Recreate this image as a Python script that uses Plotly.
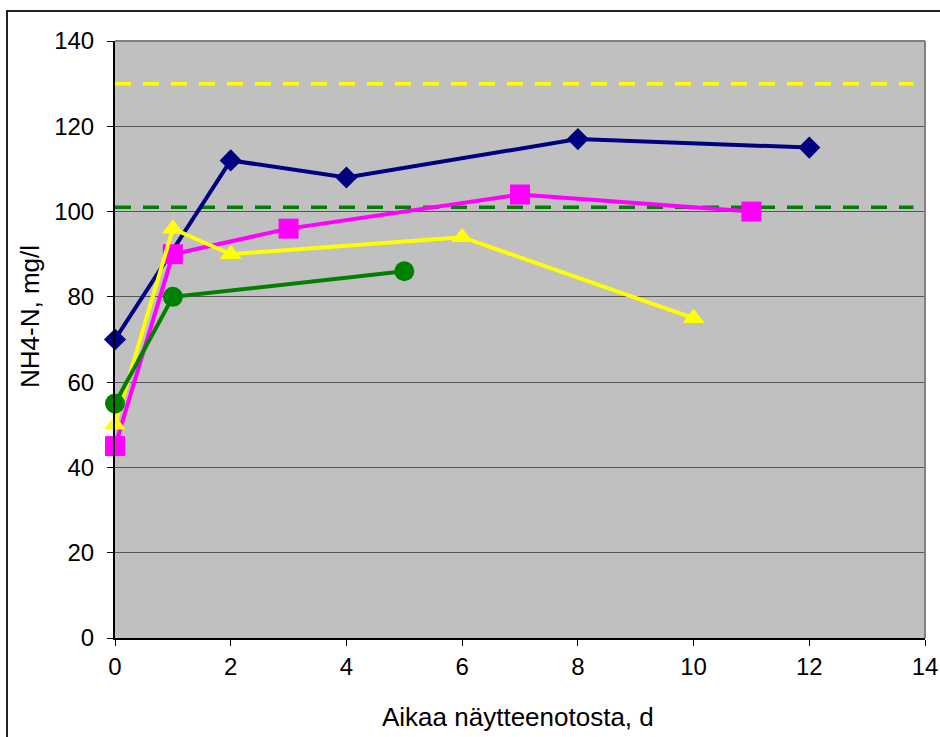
import plotly.graph_objects as go

# Data
navy_x = [0, 2, 4, 8, 12]
navy_y = [70, 112, 108, 117, 115]
magenta_x = [0, 1, 3, 7, 11]
magenta_y = [45, 90, 96, 104, 100]
yellow_x = [0, 1, 2, 6, 10]
yellow_y = [50, 96, 90, 94, 75]
green_x = [0, 1, 5]
green_y = [55, 80, 86]
limit_x = [0, 13.8]
yellow_limit = [130, 130]
green_limit = [101, 101]

x_ticks = [0, 2, 4, 6, 8, 10, 12, 14]
y_ticks = [0, 20, 40, 60, 80, 100, 120, 140]

FONT = "Liberation Sans, Arial, sans-serif"

fig = go.Figure()

fig.add_trace(go.Scatter(x=limit_x, y=yellow_limit, mode="lines",
                         line=dict(color="#FFFF00", width=3.5, dash="16px,12px"),
                         hoverinfo="skip", cliponaxis=False))
fig.add_trace(go.Scatter(x=limit_x, y=green_limit, mode="lines",
                         line=dict(color="#008000", width=3.5, dash="16px,12px"),
                         hoverinfo="skip", cliponaxis=False))

fig.add_trace(go.Scatter(x=navy_x, y=navy_y, mode="lines+markers", cliponaxis=False,
                         line=dict(color="#000080", width=4),
                         marker=dict(symbol="diamond", size=17, color="#000080")))
fig.add_trace(go.Scatter(x=magenta_x, y=magenta_y, mode="lines+markers", cliponaxis=False,
                         line=dict(color="#FF00FF", width=4),
                         marker=dict(symbol="square", size=20, color="#FF00FF")))
fig.add_trace(go.Scatter(x=yellow_x, y=yellow_y, mode="lines+markers", cliponaxis=False,
                         line=dict(color="#FFFF00", width=4),
                         marker=dict(symbol="triangle-up", size=19, color="#FFFF00")))
fig.add_trace(go.Scatter(x=green_x, y=green_y, mode="lines+markers", cliponaxis=False,
                         line=dict(color="#008000", width=4),
                         marker=dict(symbol="circle", size=20, color="#008000")))

L, R, T, B = 115, 15, 41, 99
W, H = 940, 737
pw = W - L - R
ph = H - T - B

def px_x(p):
    return (p - L) / pw

def px_y(p):
    return (H - B - p) / ph

fig.update_layout(
    width=W, height=H,
    margin=dict(l=L, r=R, t=T, b=B, pad=0, autoexpand=False),
    paper_bgcolor="white",
    plot_bgcolor="#C0C0C0",
    showlegend=False,
    font=dict(family=FONT, size=24, color="black"),
    xaxis=dict(range=[0, 14], tickvals=x_ticks, ticktext=[str(v) for v in x_ticks],
               showgrid=False, zeroline=False, showline=True, linecolor="black",
               linewidth=2, ticks="outside", ticklen=6, tickcolor="black",
               automargin=False, tickfont=dict(size=24, family=FONT)),
    yaxis=dict(range=[0, 140], tickvals=y_ticks, ticktext=[str(v) for v in y_ticks],
               showgrid=True, gridcolor="#555555", gridwidth=1, zeroline=False,
               showline=True, linecolor="black", linewidth=2,
               ticks="outside", ticklen=6, tickcolor="black", ticklabelstandoff=8,
               automargin=False, tickfont=dict(size=24, family=FONT)),
    shapes=[
        dict(type="line", xref="paper", yref="paper", x0=0, x1=1, y0=1, y1=1,
             line=dict(color="#808080", width=2)),
        dict(type="line", xref="paper", yref="paper", x0=1, x1=1, y0=0, y1=1,
             line=dict(color="#808080", width=2)),
        dict(type="rect", xref="paper", yref="paper",
             x0=px_x(7), x1=px_x(950), y0=px_y(11), y1=px_y(760),
             line=dict(color="#222222", width=2), fillcolor="rgba(0,0,0,0)"),
    ],
    annotations=[
        dict(text="Aikaa näytteenotosta, d", xref="paper", yref="paper",
             x=px_x(518), y=px_y(717), showarrow=False,
             xanchor="center", yanchor="middle", font=dict(size=26, family=FONT)),
        dict(text="NH4-N, mg/l", xref="paper", yref="paper",
             x=px_x(30), y=px_y(317), showarrow=False, textangle=-90,
             xanchor="center", yanchor="middle", font=dict(size=26, family=FONT)),
    ],
)

fig.write_html("out.html")
